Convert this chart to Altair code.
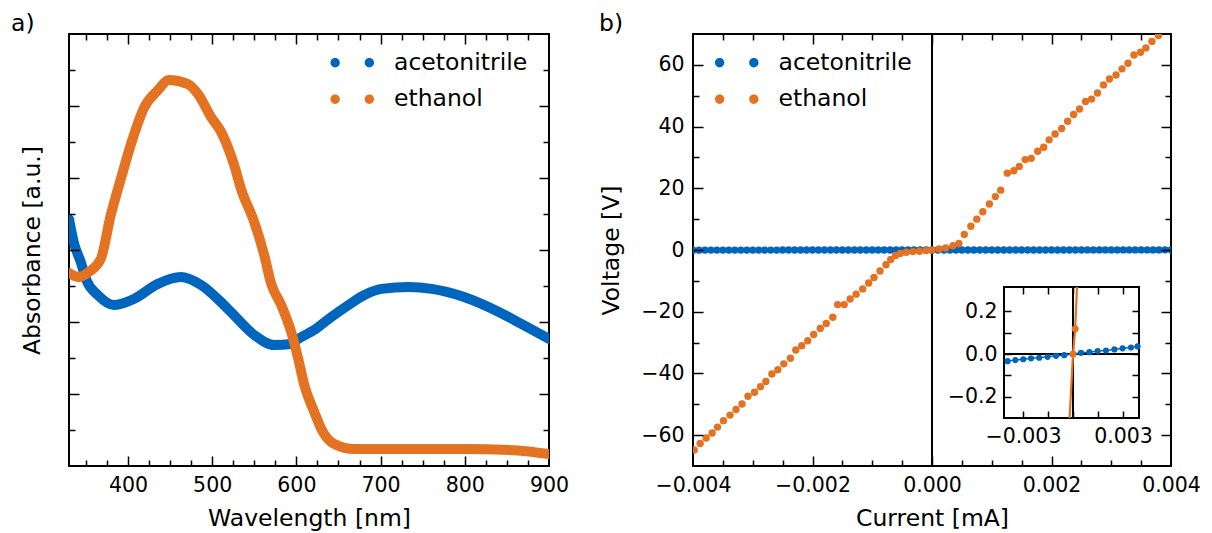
import altair as alt
import pandas as pd

FONT = "DejaVu Sans"
BLUE = "#0065BD"
ORANGE = "#E37222"
SERIES = ["acetonitrile", "ethanol"]
COLORS = [BLUE, ORANGE]

# ---------------- panel a: absorbance spectra ----------------
acn_wavelength = [330, 335.6, 343.9, 351.1, 364.2, 383.2, 407.0, 435.6, 463.0, 486.8, 518.9, 549.9,
                  573.7, 593.9, 602.3, 621.3, 641.5, 661.8, 680.8, 701.1, 733.2, 760.6, 799.9, 840.4,
                  867.7, 900]
acn_absorbance = [0.686, 0.622, 0.567, 0.514, 0.475, 0.447, 0.464, 0.506, 0.525, 0.503, 0.436, 0.364,
                  0.336, 0.339, 0.353, 0.378, 0.414, 0.447, 0.475, 0.492, 0.497, 0.492, 0.469, 0.428,
                  0.394, 0.353]
eth_wavelength = [330, 341.5, 353.5, 367.7, 379.6, 391.5, 407.0, 418.9, 435.6, 448.7, 471.3, 483.2,
                  498.7, 510.6, 526.1, 534.4, 549.9, 561.8, 570.1, 582.0, 593.9, 602.3, 609.4, 621.3,
                  629.6, 645.1, 668.9, 740.4, 799.9, 859.4, 900]
eth_absorbance = [0.536, 0.525, 0.539, 0.575, 0.697, 0.797, 0.919, 0.994, 1.044, 1.072, 1.061, 1.033,
                  0.969, 0.928, 0.836, 0.769, 0.678, 0.586, 0.506, 0.447, 0.372, 0.297, 0.225, 0.150,
                  0.103, 0.061, 0.047, 0.047, 0.047, 0.044, 0.033]

a_x_domain = [330, 900]
a_y_domain = [0, 1.2]
a_x_labels = [400, 500, 600, 700, 800, 900]
a_x_major = [400, 500, 600, 700, 800]
a_x_minor = [350, 375, 425, 450, 475, 525, 550, 575, 625, 650, 675, 725, 750, 775, 825, 850, 875]
a_y_major = [0.2, 0.4, 0.6, 0.8, 1.0]
a_y_minor = [0.1, 0.3, 0.5, 0.7, 0.9, 1.1]

# ---------------- panel b: I-V curves ----------------
acn_current = [-0.0040, -0.0039, -0.0038, -0.0037, -0.0036, -0.0035, -0.0034, -0.0033, -0.0032, -0.0031,
               -0.0030, -0.0029, -0.0028, -0.0027, -0.0026, -0.0025, -0.0024, -0.0023, -0.0022, -0.0021,
               -0.0020, -0.0019, -0.0018, -0.0017, -0.0016, -0.0015, -0.0014, -0.0013, -0.0012, -0.0011,
               -0.0010, -0.0009, -0.0008, -0.0007, -0.0006, -0.0005, -0.0004, -0.0003, -0.0002, -0.0001,
               0.0,
               0.0001, 0.0002, 0.0003, 0.0004, 0.0005, 0.0006, 0.0007, 0.0008, 0.0009, 0.0010,
               0.0011, 0.0012, 0.0013, 0.0014, 0.0015, 0.0016, 0.0017, 0.0018, 0.0019, 0.0020,
               0.0021, 0.0022, 0.0023, 0.0024, 0.0025, 0.0026, 0.0027, 0.0028, 0.0029, 0.0030,
               0.0031, 0.0032, 0.0033, 0.0034, 0.0035, 0.0036, 0.0037, 0.0038, 0.0039, 0.0040]
acn_voltage = [-0.042, -0.041, -0.040, -0.039, -0.038, -0.037, -0.036, -0.035, -0.034, -0.033,
               -0.032, -0.031, -0.029, -0.028, -0.027, -0.026, -0.025, -0.024, -0.023, -0.022,
               -0.021, -0.020, -0.019, -0.018, -0.017, -0.016, -0.015, -0.014, -0.013, -0.012,
               -0.011, -0.009, -0.008, -0.007, -0.006, -0.005, -0.004, -0.003, -0.002, -0.001,
               0.0,
               0.001, 0.002, 0.003, 0.004, 0.005, 0.006, 0.007, 0.008, 0.009, 0.011,
               0.012, 0.013, 0.014, 0.015, 0.016, 0.017, 0.018, 0.019, 0.020, 0.021,
               0.022, 0.023, 0.024, 0.025, 0.026, 0.027, 0.028, 0.029, 0.031, 0.032,
               0.033, 0.034, 0.035, 0.036, 0.037, 0.038, 0.039, 0.040, 0.041, 0.042]

eth_current = [-0.00398, -0.00388, -0.00378, -0.00368, -0.00359, -0.00349, -0.00338, -0.00328, -0.00318,
               -0.00308, -0.00297, -0.00287, -0.00278, -0.00268, -0.00258, -0.00248, -0.00237, -0.00228,
               -0.00218, -0.00208, -0.00198, -0.00187, -0.00177, -0.00166, -0.00158, -0.00147, -0.00137,
               -0.00127, -0.00116, -0.00106, -0.00097, -0.00087, -0.00077, -0.00069, -0.00061, -0.00053,
               -0.00043, -0.00032, -0.00021, -0.00010, 0.0, 0.00012, 0.00023, 0.00035, 0.00045, 0.00054,
               0.00065, 0.00075, 0.00085, 0.00096, 0.00106, 0.00115, 0.00126, 0.00137, 0.00146, 0.00156,
               0.00166, 0.00177, 0.00187, 0.00196, 0.00206, 0.00217, 0.00227, 0.00237, 0.00247, 0.00257,
               0.00267, 0.00277, 0.00287, 0.00297, 0.00308, 0.00318, 0.00328, 0.00338, 0.00349, 0.00358,
               0.00368, 0.00379]
eth_voltage = [-64.8, -62.7, -60.9, -59.3, -57.4, -55.3, -53.5, -51.7, -49.9,
               -47.4, -46.1, -44.3, -42.6, -40.2, -38.8, -36.9, -35.1, -32.4,
               -31.0, -29.4, -27.4, -25.4, -23.8, -21.8, -17.7, -17.7, -15.9,
               -14.3, -12.6, -10.7, -8.9, -6.8, -4.8, -3.1, -1.8, -1.1,
               -0.75, -0.52, -0.40, -0.20, 0.0, 0.32, 0.65, 1.4, 2.1, 5.0,
               7.7, 10.0, 12.4, 14.9, 17.3, 19.4, 24.9, 25.7, 27.1, 29.3,
               29.7, 32.0, 33.3, 35.7, 37.6, 39.4, 41.7, 43.9, 45.7, 48.1,
               48.9, 50.9, 53.5, 55.4, 56.7, 58.7, 60.5, 63.2, 64.1, 65.5,
               67.6, 69.5]

b_x_domain = [-0.004, 0.004]
b_y_domain = [-70, 70]
b_x_labels = [-0.004, -0.002, 0.0, 0.002, 0.004]
b_x_major = [-0.002, 0.0, 0.002]
b_x_minor = [-0.0035, -0.003, -0.0025, -0.0015, -0.001, -0.0005, 0.0005, 0.001, 0.0015, 0.0025, 0.003, 0.0035]
b_y_labels = [-60, -40, -20, 0, 20, 40, 60]
b_y_minor = [-50, -30, -10, 10, 30, 50]

# ---------------- inset ----------------
inset_acn_current = [-0.00327, -0.00288, -0.00249, -0.00210, -0.00169, -0.00127, -0.00085, -0.00044, 0.0,
                     0.00040, 0.00082, 0.00123, 0.00165, 0.00207, 0.00248, 0.00290, 0.00323]
inset_acn_voltage = [-0.033, -0.028, -0.024, -0.020, -0.017, -0.013, -0.008, -0.005, 0.0,
                     0.006, 0.009, 0.014, 0.017, 0.022, 0.027, 0.031, 0.036]
inset_eth_current = [-0.00017, 0.0, 0.00011, 0.00020]
inset_eth_voltage = [-0.62, 0.0, 0.119, 0.65]

inset_x_domain = [-0.00345, 0.0033]
inset_y_domain = [-0.30, 0.315]
inset_x_ticks = [-0.0025, -0.00125, 0.0, 0.00125, 0.0025]
inset_x_label_values = [-0.0025, 0.0025]
inset_x_label_texts = ["\u22120.003", "0.003"]
inset_y_ticks = [-0.2, -0.1, 0.0, 0.1, 0.2]
inset_y_label_values = [-0.2, 0.0, 0.2]

panel_labels = ["a)", "b)"]

# ---------------- layout constants ----------------
WA, WB, H = 480, 478, 432
INSET_X_RANGE = [311, 446]
INSET_Y_RANGE = [384, 253]
MAJOR, MINOR, INSET_T = 10, 6, 7

TWO_DOTS = ("M -1.91 0 A 0.41 0.41 0 1 0 -1.09 0 A 0.41 0.41 0 1 0 -1.91 0 Z "
            "M 1.09 0 A 0.41 0.41 0 1 0 1.91 0 A 0.41 0.41 0 1 0 1.09 0 Z")

color_scale = alt.Scale(domain=SERIES, range=COLORS)


def legend(x, y):
    return alt.Legend(orient="none", legendX=x, legendY=y, title=None, symbolType=TWO_DOTS,
                      symbolSize=520, symbolStrokeWidth=0, symbolOpacity=1, labelFont=FONT,
                      labelFontSize=23.5, labelColor="black", labelOffset=30, rowPadding=11.5,
                      padding=0)


def tick_axis(orient, offset, values, size):
    return alt.Axis(orient=orient, offset=offset, values=values, tickSize=size, tickWidth=1.5,
                    tickColor="black", labels=False, domain=False, grid=False, title=None, zindex=3)


def tick_layer(xs, ys, xdom, ydom, xorient, xoff, xvals, yorient, yoff, yvals, size):
    df = pd.DataFrame({"x": xdom, "y": ydom})
    return alt.Chart(df).mark_point(opacity=0, size=1).encode(
        x=alt.X("x:Q", scale=xs, axis=tick_axis(xorient, xoff, xvals, size)),
        y=alt.Y("y:Q", scale=ys, axis=tick_axis(yorient, yoff, yvals, size)),
    )


def panel_label(text, dx):
    return alt.Chart(pd.DataFrame({"label": [text]})).mark_text(
        align="left", baseline="alphabetic", font=FONT, fontSize=23.5, color="black", dx=dx, dy=-3
    ).encode(text="label:N", x=alt.value(0), y=alt.value(0))


# ================= panel a =================
xa = alt.Scale(domain=a_x_domain, nice=False, zero=False)
ya = alt.Scale(domain=a_y_domain, nice=False, zero=False)

df_a = pd.concat([
    pd.DataFrame({"wl": acn_wavelength, "abs": acn_absorbance, "series": "acetonitrile"}),
    pd.DataFrame({"wl": eth_wavelength, "abs": eth_absorbance, "series": "ethanol"}),
])

a_lines = alt.Chart(df_a).mark_line(strokeWidth=10, strokeCap="round", strokeJoin="round",
                                    interpolate="monotone", clip=True).encode(
    x=alt.X("wl:Q", scale=xa, axis=alt.Axis(orient="bottom", values=a_x_labels, format="d",
                                            ticks=False, tickSize=0, domain=False, grid=False,
                                            labelPadding=9, labelFlush=False, labelOverlap=False,
                                            title="Wavelength [nm]", titlePadding=11)),
    y=alt.Y("abs:Q", scale=ya, axis=alt.Axis(orient="left", labels=False, ticks=False, tickSize=0,
                                             domain=False, grid=False, title="Absorbance [a.u.]",
                                             titlePadding=25)),
    stroke=alt.Stroke("series:N", scale=color_scale, legend=None),
)
# legend-only layer: no visible marks, legend built from the colour scale domain
a_leg = alt.Chart(df_a).mark_point(filled=True, size=55).encode(
    x=alt.X("wl:Q", scale=xa, axis=None),
    y=alt.Y("abs:Q", scale=ya, axis=None),
    color=alt.Color("series:N", scale=color_scale, legend=legend(271.5, 17)),
).transform_filter("datum.abs > 100")

panel_a = alt.layer(
    a_lines, a_leg,
    tick_layer(xa, ya, a_x_domain, a_y_domain, "top", -H, a_x_major, "right", -WA, a_y_major, MAJOR),
    tick_layer(xa, ya, a_x_domain, a_y_domain, "top", -H, a_x_minor, "right", -WA, a_y_minor, MINOR),
    tick_layer(xa, ya, a_x_domain, a_y_domain, "bottom", -H, a_x_major, "left", -WA, a_y_major, MAJOR),
    tick_layer(xa, ya, a_x_domain, a_y_domain, "bottom", -H, a_x_minor, "left", -WA, a_y_minor, MINOR),
    panel_label(panel_labels[0], -58),
).resolve_scale(x="independent", y="independent").properties(width=WA, height=H)

# ================= panel b =================
xb = alt.Scale(domain=b_x_domain, nice=False, zero=False)
yb = alt.Scale(domain=b_y_domain, nice=False, zero=False)
xb_axis = alt.Axis(orient="bottom", values=b_x_labels, format=".3f", ticks=False, tickSize=0,
                   domain=False, grid=False, labelPadding=9, labelFlush=False, labelOverlap=False,
                   title="Current [mA]", titlePadding=11)
yb_axis = alt.Axis(orient="left", values=b_y_labels, format="d", ticks=False, tickSize=0,
                   domain=False, grid=False, labelPadding=9, labelFlush=False, labelOverlap=False,
                   title="Voltage [V]", titlePadding=17)

df_b_acn = pd.DataFrame({"current": acn_current, "voltage": acn_voltage, "series": "acetonitrile"})
df_b_eth = pd.DataFrame({"current": eth_current, "voltage": eth_voltage, "series": "ethanol"})

b_hline = alt.Chart(pd.DataFrame({"voltage": [0.0]})).mark_rule(color="black", strokeWidth=2).encode(
    y=alt.Y("voltage:Q", scale=yb, axis=yb_axis))
b_vline = alt.Chart(pd.DataFrame({"current": [0.0]})).mark_rule(color="black", strokeWidth=2).encode(
    x=alt.X("current:Q", scale=xb, axis=xb_axis))


def b_points(df):
    return alt.Chart(df).mark_point(filled=True, size=55, opacity=1, clip=True).encode(
        x=alt.X("current:Q", scale=xb, axis=xb_axis),
        y=alt.Y("voltage:Q", scale=yb, axis=yb_axis),
        color=alt.Color("series:N", scale=color_scale, legend=legend(32, 17)),
    )


b_main = alt.layer(b_hline, b_points(df_b_acn), b_vline, b_points(df_b_eth))

# inset
xi = alt.Scale(domain=inset_x_domain, range=INSET_X_RANGE, nice=False, zero=False, clamp=True)
yi = alt.Scale(domain=inset_y_domain, range=INSET_Y_RANGE, nice=False, zero=False, clamp=True)
mid = (inset_x_label_values[0] + inset_x_label_values[1]) / 2
label_expr = f"datum.value < {mid} ? '{inset_x_label_texts[0]}' : '{inset_x_label_texts[1]}'"
xi_axis = alt.Axis(orient="bottom", offset=INSET_Y_RANGE[0] - H, values=inset_x_label_values,
                   labelExpr=label_expr, ticks=False, tickSize=0, domain=False, grid=False,
                   labelPadding=8, labelFlush=False, labelOverlap=False, title=None)
yi_axis = alt.Axis(orient="left", offset=-INSET_X_RANGE[0], values=inset_y_label_values, format=".1f",
                   ticks=False, tickSize=0, domain=False, grid=False, labelPadding=7,
                   labelFlush=False, labelOverlap=False, title=None)

df_frame = pd.DataFrame({"x1": [inset_x_domain[0]], "x2": [inset_x_domain[1]],
                         "y1": [inset_y_domain[0]], "y2": [inset_y_domain[1]]})
i_frame = alt.Chart(df_frame).mark_rect(fill="white", stroke="black", strokeWidth=2).encode(
    x=alt.X("x1:Q", scale=xi, axis=xi_axis), x2="x2",
    y=alt.Y("y1:Q", scale=yi, axis=yi_axis), y2="y2")
i_hline = alt.Chart(pd.DataFrame({"x1": [inset_x_domain[0]], "x2": [inset_x_domain[1]], "y": [0.0]})
                    ).mark_rule(color="black", strokeWidth=2).encode(
    x=alt.X("x1:Q", scale=xi, axis=xi_axis), x2="x2", y=alt.Y("y:Q", scale=yi, axis=yi_axis))
i_vline = alt.Chart(pd.DataFrame({"x": [0.0], "y1": [inset_y_domain[0]], "y2": [inset_y_domain[1]]})
                    ).mark_rule(color="black", strokeWidth=2).encode(
    x=alt.X("x:Q", scale=xi, axis=xi_axis), y=alt.Y("y1:Q", scale=yi, axis=yi_axis), y2="y2")

df_i_acn = pd.DataFrame({"current": inset_acn_current, "voltage": inset_acn_voltage, "series": "acetonitrile"})
df_i_eth = pd.DataFrame({"current": inset_eth_current, "voltage": inset_eth_voltage, "series": "ethanol"})


def inset_xy():
    return dict(x=alt.X("current:Q", scale=xi, axis=xi_axis),
                y=alt.Y("voltage:Q", scale=yi, axis=yi_axis))


flt = (f"datum.current >= {inset_x_domain[0]} && datum.current <= {inset_x_domain[1]} && "
       f"datum.voltage >= {inset_y_domain[0]} && datum.voltage <= {inset_y_domain[1]}")
i_acn_line = alt.Chart(df_i_acn).mark_line(strokeWidth=1.5).encode(
    stroke=alt.Stroke("series:N", scale=color_scale, legend=None), **inset_xy())
i_acn_pts = alt.Chart(df_i_acn).mark_point(filled=True, size=38, opacity=1).encode(
    fill=alt.Fill("series:N", scale=color_scale, legend=None), **inset_xy())
i_eth_line = alt.Chart(df_i_eth).mark_line(strokeWidth=2.2).encode(
    stroke=alt.Stroke("series:N", scale=color_scale, legend=None), **inset_xy())
i_eth_pts = alt.Chart(df_i_eth).mark_point(filled=True, size=50, opacity=1).encode(
    fill=alt.Fill("series:N", scale=color_scale, legend=None), **inset_xy()).transform_filter(flt)

b_inset = alt.layer(i_frame, i_hline, i_vline, i_acn_line, i_acn_pts, i_eth_line, i_eth_pts)

panel_b = alt.layer(
    b_main,
    tick_layer(xb, yb, b_x_domain, b_y_domain, "top", -H, b_x_major, "right", -WB, b_y_labels, MAJOR),
    tick_layer(xb, yb, b_x_domain, b_y_domain, "top", -H, b_x_minor, "right", -WB, b_y_minor, MINOR),
    tick_layer(xb, yb, b_x_domain, b_y_domain, "bottom", -H, b_x_major, "left", -WB, b_y_labels, MAJOR),
    tick_layer(xb, yb, b_x_domain, b_y_domain, "bottom", -H, b_x_minor, "left", -WB, b_y_minor, MINOR),
    b_inset,
    tick_layer(xi, yi, inset_x_domain, inset_y_domain, "top", -INSET_Y_RANGE[0], inset_x_ticks,
               "right", INSET_X_RANGE[0] - WB, inset_y_ticks, INSET_T),
    tick_layer(xi, yi, inset_x_domain, inset_y_domain, "bottom", INSET_Y_RANGE[1] - H, inset_x_ticks,
               "left", -INSET_X_RANGE[1], inset_y_ticks, INSET_T),
    panel_label(panel_labels[1], -94),
).resolve_scale(x="independent", y="independent").properties(width=WB, height=H)

chart = alt.hconcat(panel_a, panel_b, spacing=28).resolve_legend(color="independent").properties(
    padding={"left": 10, "top": 11, "right": 0, "bottom": 8}
).configure_axis(
    labelFont=FONT, labelFontSize=20.5, labelColor="black", titleFont=FONT, titleFontSize=23.5,
    titleFontWeight="normal", titleColor="black",
).configure_view(stroke="black", strokeWidth=2).configure_legend(labelFont=FONT)

chart.save("out.html", embed_options={"renderer": "svg", "actions": False})
